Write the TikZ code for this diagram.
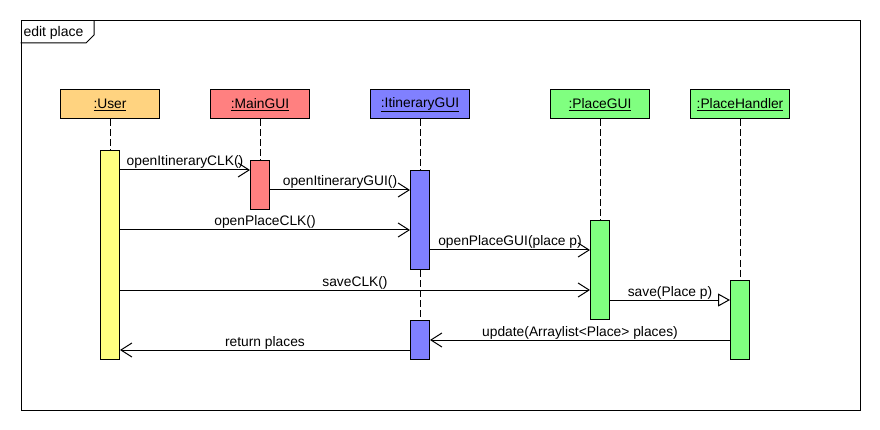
\documentclass[tikz,border=0pt]{standalone}
\usepackage{fontspec}
\setmainfont{Liberation Sans}
\usetikzlibrary{arrows.meta}
\definecolor{cuserhead}{RGB}{255,211,128}
\definecolor{cuseract}{RGB}{255,255,128}
\definecolor{cmain}{RGB}{255,128,128}
\definecolor{citin}{RGB}{128,128,255}
\definecolor{cplace}{RGB}{128,255,128}
\begin{document}
\begin{tikzpicture}[x=1pt,y=-1pt,
  font=\fontsize{13.8}{16}\selectfont,
  line width=1pt,
  head/.style={draw, minimum width=99pt, minimum height=29pt, inner sep=0pt, anchor=center},
  actbar/.style={draw, minimum width=19pt, inner sep=0pt, anchor=north},
  lifeline/.style={draw, dash pattern=on 7pt off 3pt},
  msg/.style={draw, -{Straight Barb[length=11pt,width=14pt]}},
  msgtri/.style={draw, -{Triangle[open,length=12pt,width=13pt,fill=white]}},
  lbl/.style={midway, anchor=base, yshift=4pt, inner sep=0pt}]
\useasboundingbox (0,0) rectangle (880,430);
% frame
\node[draw, minimum width=839pt, minimum height=389pt, anchor=north west, inner sep=0pt] (frame) at (20.5,20.5) {};
\draw (94,20.5) -- (94,35) -- (86,43) -- (20.5,43);
\node[anchor=base west, inner sep=0pt, font=\fontsize{14}{16}\selectfont] (title) at (23,37) {edit place};
% heads
\node[head, fill=cuserhead] (uhead) at (110,104.5) {\underline{:User}};
\node[head, fill=cmain] (mhead) at (260,104.5) {\underline{:MainGUI}};
\node[head, fill=citin] (ihead) at (420,104.5) {\underline{:ItineraryGUI}};
\node[head, fill=cplace] (phead) at (600,104.5) {\underline{:PlaceGUI}};
\node[head, fill=cplace] (hhead) at (740,104.5) {\underline{:PlaceHandler}};
% activations
\node[actbar, fill=cuseract, minimum height=209pt] (uact) at (110,150) {};
\node[actbar, fill=cmain, minimum height=49pt] (mact) at (260,160) {};
\node[actbar, fill=citin, minimum height=99pt] (iacta) at (420,170) {};
\node[actbar, fill=citin, minimum height=39pt] (iactb) at (420,320) {};
\node[actbar, fill=cplace, minimum height=99pt] (pact) at (600,220) {};
\node[actbar, fill=cplace, minimum height=79pt] (hact) at (740,280) {};
% lifelines
\draw[lifeline] (uhead.south) -- (uact.north);
\draw[lifeline] (mhead.south) -- (mact.north);
\draw[lifeline] (ihead.south) -- (iacta.north);
\draw[lifeline] (iacta.south) -- (iactb.north);
\draw[lifeline] (phead.south) -- (pact.north);
\draw[lifeline] (hhead.south) -- (hact.north);
% message levels
\coordinate (ya) at (0,170);
\coordinate (yb) at (0,190);
\coordinate (yc) at (0,230);
\coordinate (yd) at (0,250);
\coordinate (ye) at (0,290);
\coordinate (yf) at (0,300);
\coordinate (yg) at (0,340);
\coordinate (yh) at (0,350);
% messages
\draw[msg] (uact.east |- ya) -- node[lbl] {openItineraryCLK()} (mact.west |- ya);
\draw[msg] (mact.east |- yb) -- node[lbl] {openItineraryGUI()} (iacta.west |- yb);
\draw[msg] (uact.east |- yc) -- node[lbl] {openPlaceCLK()} (iacta.west |- yc);
\draw[msg] (iacta.east |- yd) -- node[lbl] {openPlaceGUI(place p)} (pact.west |- yd);
\draw[msg] (uact.east |- ye) -- node[lbl] {saveCLK()} (pact.west |- ye);
\draw[msgtri] (pact.east |- yf) -- node[lbl] {save(Place p)} (hact.west |- yf);
\draw[msg] (hact.west |- yg) -- node[lbl] {update(Arraylist<Place> places)} (iactb.east |- yg);
\draw[msg] (iactb.west |- yh) -- node[lbl] {return places} (uact.east |- yh);
\end{tikzpicture}
\end{document}
